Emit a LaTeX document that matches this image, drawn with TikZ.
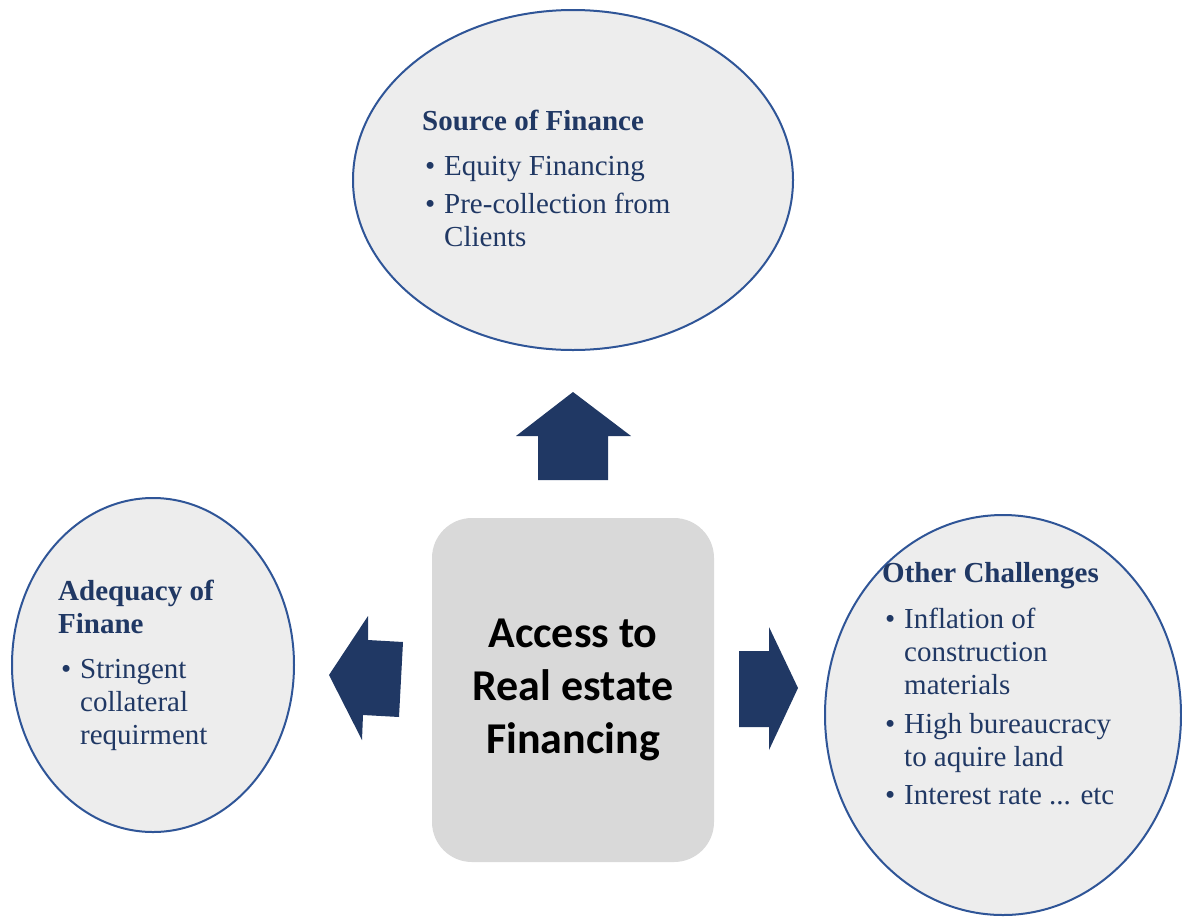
\documentclass[tikz,border=0pt]{standalone}
\usepackage{fontspec}
\setmainfont{Liberation Serif}
\newfontfamily\boxfont{Carlito}
\usepackage{tikz}
\usetikzlibrary{shapes.geometric}
\definecolor{navy}{RGB}{32,56,100}
\definecolor{rimblue}{RGB}{47,85,151}
\definecolor{bubblegrey}{RGB}{237,237,237}
\definecolor{boxgrey}{RGB}{217,217,217}
\def\bubble{\node[ellipse,draw=rimblue,fill=bubblegrey,line width=2pt,inner sep=0pt]}
\def\blurb{\node[anchor=base west,text=navy,inner sep=0pt,font=\fontsize{29}{33}\selectfont]}
\def\blockarrow{\fill[navy]}
\def\point{\textbullet&}
\def\head#1{\multicolumn{2}{@{}l@{}}{\textbf{#1}}}

\begin{document}
\begin{tikzpicture}[x=1pt,y=-1pt]
\useasboundingbox (0,0) rectangle (1182,916);
% the three bubbles
\bubble[minimum width=440,minimum height=340] (source) at (573,180) {};
\bubble[minimum width=282,minimum height=334] (adequacy) at (153,665) {};
\bubble[minimum width=356,minimum height=400] (other) at (1003,715) {};
% centre box
\node[fill=boxgrey,rounded corners=40pt,minimum width=282,minimum height=344,align=center,
  font=\boxfont\bfseries\fontsize{44}{53}\selectfont] (access) at (573,690) {Access to\\Real estate\\Financing};
% block arrows
\blockarrow (573,392) -- (631,436) -- (608,436) -- (608,480) -- (538,480) -- (538,436) -- (516,436) -- cycle;
\blockarrow (329,675) -- (368,616) -- (368,640) -- (403,642) -- (399,717) -- (363,715) -- (362,740) -- cycle;
\blockarrow (798,688) -- (769,627) -- (769,651) -- (739,651) -- (739,727) -- (769,727) -- (769,750) -- cycle;
% texts
\blurb (srctext) at (422,130) {\begin{tabular}[t]{@{\hspace{3pt}}p{19pt}@{}l@{}}
\head{Source of Finance}\\[12pt]
\point Equity Financing\\[5pt]
\point Pre-collection from\\
& Clients
\end{tabular}};
\blurb (adqtext) at (58,600) {\begin{tabular}[t]{@{\hspace{3pt}}p{19pt}@{}l@{}}
\head{Adequacy of}\\
\head{Finane}\\[12pt]
\point Stringent\\
& collateral\\
& requirment
\end{tabular}};
\blurb (othtext) at (882,582) {\begin{tabular}[t]{@{\hspace{3pt}}p{19pt}@{}l@{}}
\head{Other Challenges}\\[13pt]
\point Inflation of\\
& construction\\
& materials\\[6pt]
\point High bureaucracy\\
& to aquire land\\[5pt]
\point Interest rate ... etc
\end{tabular}};
\end{tikzpicture}
\end{document}
